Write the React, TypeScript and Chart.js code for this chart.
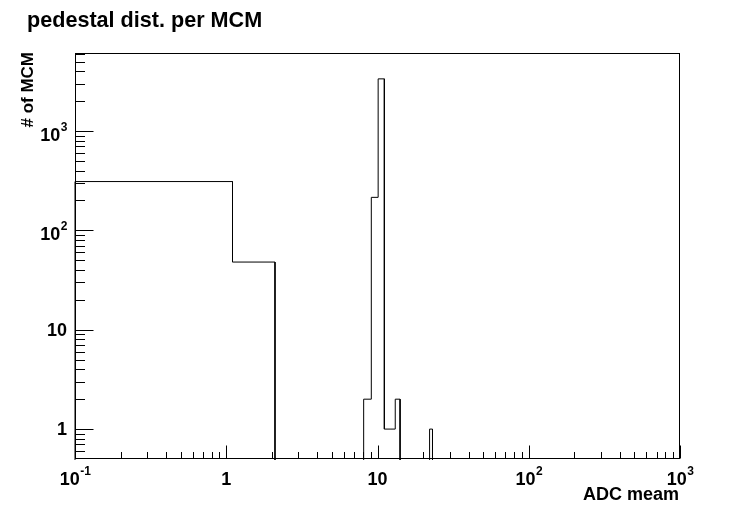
import React, { useEffect, useRef } from "react";
import { Chart, registerables } from "chart.js";

Chart.register(...registerables);

// ---- data ----
const titleText = "pedestal dist. per MCM";
const xAxisTitle = "ADC meam";
const yAxisTitle = "# of MCM";

const binLow = [0.1, 1.1, 8.1, 9.1, 10.1, 11.1, 12.1, 13.1, 22.1];
const binCount = [310, 48, 2, 215, 3350, 1, 1, 2, 1];
const binWidth = 1;

const xMin = 0.1;
const xMax = 1000;
const yMin = 0.5;
const yMax = 6100;

const xTickValues = [0.1, 1, 10, 100, 1000];
const xTickBase = ["10", "1", "10", "10", "10"];
const xTickExp = ["-1", "", "", "2", "3"];

const yTickValues = [1, 10, 100, 1000];
const yTickBase = ["1", "10", "10", "10"];
const yTickExp = ["", "", "2", "3"];

const FONT = "'Liberation Sans', Arial, Helvetica, sans-serif";

function buildSteps() {
  const floor = 0.05;
  const pts: { x: number; y: number }[] = [];
  let prevHi: number | null = null;
  binLow.forEach((lo, i) => {
    const hi = lo + binWidth;
    const v = binCount[i];
    if (prevHi === null) {
      pts.push({ x: lo, y: floor });
    } else if (Math.abs(prevHi - lo) > 1e-9) {
      pts.push({ x: prevHi, y: floor });
      pts.push({ x: lo, y: floor });
    }
    pts.push({ x: lo, y: v });
    pts.push({ x: hi, y: v });
    prevHi = hi;
  });
  if (prevHi !== null) {
    pts.push({ x: prevHi, y: floor });
    pts.push({ x: xMax, y: floor });
  }
  return pts;
}

function minorValues(lo: number, hi: number) {
  const out: number[] = [];
  for (let e = -2; e <= 4; e++) {
    for (let k = 2; k <= 9; k++) {
      const v = k * Math.pow(10, e);
      if (v > lo * 1.0001 && v < hi * 0.9999) out.push(v);
    }
  }
  return out;
}

const rootStyle = {
  id: "rootStyle",
  afterDraw(chart: any) {
    const ctx = chart.ctx as CanvasRenderingContext2D;
    const { left, right, top, bottom } = chart.chartArea;
    const xs = chart.scales.x;
    const ys = chart.scales.y;
    ctx.save();
    ctx.strokeStyle = "#000";
    ctx.lineWidth = 1;
    // frame
    const L = Math.round(left) + 0.5;
    const R = Math.round(right) - 0.5;
    const T = Math.round(top) + 0.5;
    const B = Math.round(bottom) - 0.5;
    ctx.strokeRect(L, T, R - L, B - T);
    // x ticks
    ctx.beginPath();
    xTickValues.forEach((v) => {
      const px = Math.round(xs.getPixelForValue(v)) + 0.5;
      ctx.moveTo(px, B);
      ctx.lineTo(px, B - 13);
    });
    minorValues(xMin, xMax).forEach((v) => {
      const px = Math.round(xs.getPixelForValue(v)) + 0.5;
      ctx.moveTo(px, B);
      ctx.lineTo(px, B - 6.5);
    });
    // y ticks
    yTickValues.forEach((v) => {
      const py = Math.round(ys.getPixelForValue(v)) + 0.5;
      ctx.moveTo(L, py);
      ctx.lineTo(L + 18, py);
    });
    minorValues(yMin, yMax).forEach((v) => {
      const py = Math.round(ys.getPixelForValue(v)) + 0.5;
      ctx.moveTo(L, py);
      ctx.lineTo(L + 9.5, py);
    });
    ctx.stroke();

    // tick labels
    ctx.fillStyle = "#000";
    ctx.textBaseline = "alphabetic";
    const baseFont = `bold 18px ${FONT}`;
    const expFont = `bold 12px ${FONT}`;
    const measure = (b: string, e: string) => {
      ctx.font = baseFont;
      const wb = ctx.measureText(b).width;
      ctx.font = expFont;
      const we = e ? ctx.measureText(e).width : 0;
      return { wb, we };
    };
    const drawLabel = (b: string, e: string, x0: number, base: number) => {
      ctx.textAlign = "left";
      ctx.font = baseFont;
      ctx.fillText(b, x0, base);
      if (e) {
        const wb = ctx.measureText(b).width;
        ctx.font = expFont;
        ctx.fillText(e, x0 + wb + 0.5, base - 10);
      }
    };
    xTickValues.forEach((v, i) => {
      const px = xs.getPixelForValue(v);
      const { wb, we } = measure(xTickBase[i], xTickExp[i]);
      const w = wb + we;
      drawLabel(xTickBase[i], xTickExp[i], px - w / 2, 485);
    });
    yTickValues.forEach((v, i) => {
      const py = ys.getPixelForValue(v);
      const { wb, we } = measure(yTickBase[i], yTickExp[i]);
      const w = wb + we;
      const base = yTickExp[i] ? py + 10 : py + 6;
      drawLabel(yTickBase[i], yTickExp[i], 67 - w, base);
    });

    // axis titles
    ctx.font = `bold 18px ${FONT}`;
    ctx.textAlign = "right";
    ctx.fillText(xAxisTitle, Math.round(right) - 1, 500);
    ctx.save();
    ctx.translate(33, Math.round(top) - 1);
    ctx.rotate(-Math.PI / 2);
    ctx.font = `bold 17px ${FONT}`;
    ctx.textAlign = "right";
    ctx.fillText(yAxisTitle, 0, 0);
    ctx.restore();

    // main title
    ctx.font = `bold 21.6px ${FONT}`;
    ctx.textAlign = "left";
    ctx.fillText(titleText, 27, 27);
    ctx.restore();
  },
};

export default function App() {
  const ref = useRef<HTMLCanvasElement | null>(null);
  useEffect(() => {
    if (!ref.current) return;
    const chart = new Chart(ref.current, {
      type: "line",
      data: {
        datasets: [
          {
            label: "hist",
            data: buildSteps(),
            borderColor: "#000",
            borderWidth: 1,
            pointRadius: 0,
            fill: false,
            tension: 0,
            clip: 1,
          } as any,
        ],
      },
      options: {
        responsive: false,
        animation: false,
        devicePixelRatio: 1,
        layout: { padding: { left: 75, top: 53, right: 76, bottom: 52 } },
        plugins: {
          legend: { display: false },
          tooltip: { enabled: false },
          title: { display: false },
        },
        scales: {
          x: { type: "logarithmic", min: xMin, max: xMax, display: false },
          y: { type: "logarithmic", min: yMin, max: yMax, display: false },
        },
      },
      plugins: [rootStyle],
    });
    return () => chart.destroy();
  }, []);
  return (
    <div style={{ position: "absolute", left: 0, top: 0, width: 756, height: 511, background: "#fff" }}>
      <canvas ref={ref} width={756} height={511} style={{ display: "block" }} />
    </div>
  );
}
